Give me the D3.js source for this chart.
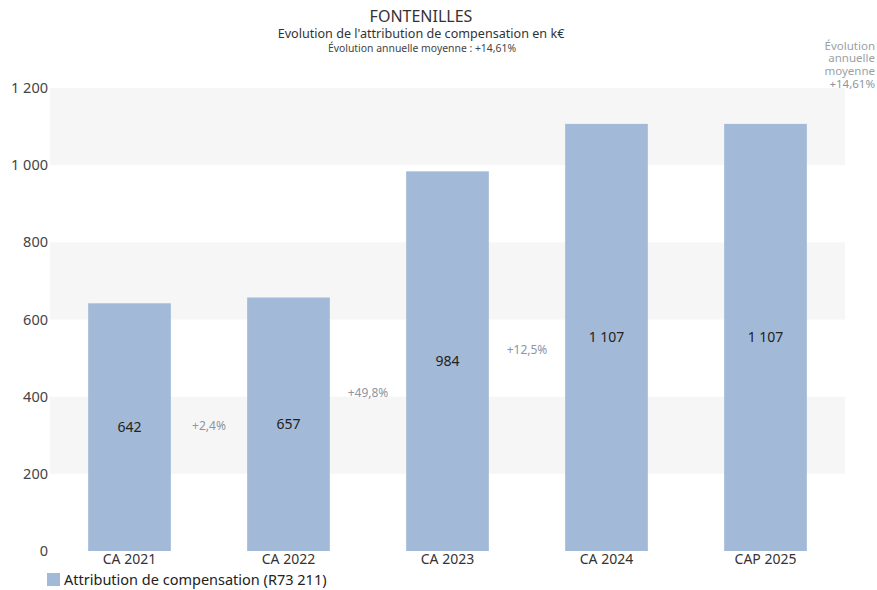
<!DOCTYPE html>
<html><head><meta charset="utf-8">
<script src="https://cdn.jsdelivr.net/npm/d3@7"></script>
<style>body{margin:0;background:#fff}svg{display:block}text{font-family:"Noto Sans","Open Sans",sans-serif}</style>
</head><body>
<svg id="c" width="877" height="590"></svg>
<script>
const categories = ["CA 2021","CA 2022","CA 2023","CA 2024","CAP 2025"];
const values = [642,657,984,1107,1107];
const evolutions = ["+2,4%","+49,8%","+12,5%",""];
const valueLabels = ["642","657","984","1 107","1 107"];
const yTicks = [0,200,400,600,800,1000,1200];
const yTickLabels = ["0","200","400","600","800","1 000","1 200"];
const seriesName = "Attribution de compensation (R73 211)";

const svg = d3.select("#c");
const mLeft = 50, mRight = 845, mTop = 88, mBottom = 551;
const y = d3.scaleLinear().domain([0,1200]).range([mBottom, mTop]);
const x = d3.scaleBand().domain(categories).range([mLeft, mRight]).paddingInner(0.48).paddingOuter(0.24);

// bands
for (let i = 0; i < yTicks.length - 1; i++) {
  if (i % 2 === 1) {
    svg.append("rect").attr("x", mLeft).attr("width", mRight - mLeft)
      .attr("y", y(yTicks[i+1])).attr("height", y(yTicks[i]) - y(yTicks[i+1]))
      .attr("fill", "#f6f6f6");
  }
}

// y axis labels
const yAxis = d3.axisLeft(y).tickValues(yTicks).tickSize(0).tickPadding(0)
  .tickFormat((d,i) => yTickLabels[i]);
const yg = svg.append("g").attr("transform", `translate(${mLeft-2},0)`).call(yAxis);
yg.select(".domain").remove();
yg.selectAll("text").attr("font-size", 14.5).attr("fill", "#444").attr("font-family", '"Noto Sans",sans-serif');

// bars
const color = "#a3b9d8";
svg.selectAll("rect.bar").data(values).enter().append("rect").attr("class","bar")
  .attr("x", (d,i) => x(categories[i])).attr("width", x.bandwidth())
  .attr("y", d => y(d)).attr("height", d => y(0) - y(d)).attr("fill", color);

// value labels
svg.selectAll("text.val").data(values).enter().append("text").attr("class","val")
  .attr("x", (d,i) => x(categories[i]) + x.bandwidth()/2)
  .attr("y", d => (y(d) + y(0))/2).attr("dy","0.35em")
  .attr("text-anchor","middle").attr("font-size", 14).attr("fill","#222")
  .text((d,i) => valueLabels[i]);

// evolution labels
evolutions.forEach((t,i) => {
  if (!t) return;
  const xm = (x(categories[i]) + x.bandwidth() + x(categories[i+1])) / 2;
  const ym = ((y(values[i]) + y(0))/2 + (y(values[i+1]) + y(0))/2) / 2;
  svg.append("text").attr("x", xm).attr("y", ym).attr("dy","0.35em")
    .attr("text-anchor","middle").attr("font-size", 12).attr("fill","#8d95a3").text(t);
});

// x labels
const xAxis = d3.axisBottom(x).tickSize(0).tickPadding(0);
const xg = svg.append("g").attr("transform", `translate(0,${mBottom})`).call(xAxis);
xg.select(".domain").remove();
xg.selectAll("text").attr("font-size", 14).attr("fill","#333").attr("dy","0.9em")
  .attr("font-family", '"Noto Sans",sans-serif');

// titles
svg.append("text").attr("x", 421).attr("y", 22).attr("text-anchor","middle")
  .attr("font-size", 16).attr("fill","#333").text("FONTENILLES");
svg.append("text").attr("x", 421).attr("y", 38).attr("text-anchor","middle")
  .attr("font-size", 12.6).attr("fill","#333").text("Evolution de l'attribution de compensation en k€");
svg.append("text").attr("x", 422).attr("y", 52).attr("text-anchor","middle")
  .attr("font-size", 10.4).attr("fill","#444").text("Évolution annuelle moyenne : +14,61%");

// right annotation
const ann = ["Évolution","annuelle","moyenne","+14,61%"];
ann.forEach((t,i) => {
  svg.append("text").attr("x", 875).attr("y", 50 + i*12.3 + (i===3?1.5:0)).attr("text-anchor","end")
    .attr("font-size", 11.5).attr("fill", i===3 ? "#8d95a3" : "#9a9fa6").text(t);
});

// legend
svg.append("rect").attr("x", 47).attr("y", 573).attr("width", 13).attr("height", 13).attr("fill", color);
svg.append("text").attr("x", 64).attr("y", 580).attr("dy","0.35em")
  .attr("font-size", 14.5).attr("fill","#222").text(seriesName);
</script>
</body></html>
